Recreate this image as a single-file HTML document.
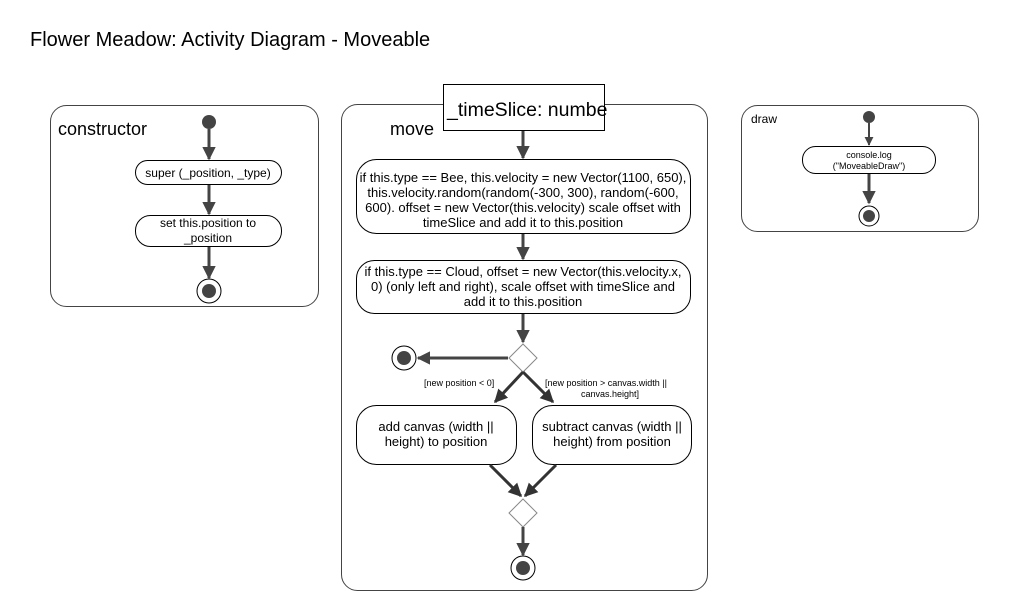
<!DOCTYPE html>
<html><head><meta charset="utf-8"><style>
html,body{margin:0;padding:0;background:#fff;}
svg{display:block;font-family:"Liberation Sans",Arial,sans-serif;}
</style></head><body>
<svg width="1024" height="592" viewBox="0 0 1024 592" xmlns="http://www.w3.org/2000/svg">
<defs>
<marker id="a" viewBox="0 0 10 10" refX="9" refY="5" markerWidth="4.5" markerHeight="4.5" orient="auto" markerUnits="strokeWidth">
<path d="M0,0 L10,5 L0,10 z" fill="#444"/></marker>
<marker id="b" viewBox="0 0 10 10" refX="9" refY="5" markerWidth="4.5" markerHeight="4.5" orient="auto" markerUnits="strokeWidth">
<path d="M0,0 L10,5 L0,10 z" fill="#333"/></marker>
</defs>
<text x="30" y="46" font-size="20" fill="#000">Flower Meadow: Activity Diagram - Moveable</text>

<!-- constructor -->
<rect x="50.5" y="105.5" width="268" height="201" rx="16" fill="none" stroke="#444"/>
<text x="58" y="135" font-size="18">constructor</text>
<circle cx="209" cy="122" r="7" fill="#444"/>
<line x1="209" y1="129" x2="209" y2="159" stroke="#444" stroke-width="3" marker-end="url(#a)"/>
<rect x="135.5" y="160.5" width="146" height="24" rx="12" fill="#fff" stroke="#000"/>
<text x="208" y="177" font-size="12" text-anchor="middle">super (_position, _type)</text>
<line x1="209" y1="185" x2="209" y2="214" stroke="#444" stroke-width="3" marker-end="url(#a)"/>
<rect x="135.5" y="215.5" width="146" height="31" rx="15" fill="#fff" stroke="#000"/>
<text x="208" y="227" font-size="12" text-anchor="middle">set this.position to</text>
<text x="208" y="242" font-size="12" text-anchor="middle">_position</text>
<line x1="209" y1="247" x2="209" y2="278" stroke="#444" stroke-width="3" marker-end="url(#a)"/>
<circle cx="209" cy="291" r="12" fill="#fff" stroke="#000"/>
<circle cx="209" cy="291" r="7" fill="#444"/>

<!-- move -->
<rect x="341.5" y="104.5" width="366" height="486" rx="16" fill="none" stroke="#444"/>
<text x="390" y="135" font-size="18">move</text>
<rect x="443.5" y="84.5" width="161" height="46" fill="#fff" stroke="#000"/>
<text x="447" y="116" font-size="19.5">_timeSlice: numbe</text>
<line x1="523" y1="131" x2="523" y2="158" stroke="#444" stroke-width="3" marker-end="url(#a)"/>
<rect x="356.5" y="159.5" width="334" height="74" rx="20" fill="#fff" stroke="#000"/>
<g font-size="13" text-anchor="middle">
<text x="523" y="182">if this.type == Bee, this.velocity = new Vector(1100, 650),</text>
<text x="523" y="197">this.velocity.random(random(-300, 300), random(-600,</text>
<text x="523" y="212">600). offset = new Vector(this.velocity) scale offset with</text>
<text x="523" y="227">timeSlice and add it to this.position</text>
</g>
<line x1="523" y1="234" x2="523" y2="259" stroke="#444" stroke-width="3" marker-end="url(#a)"/>
<rect x="356.5" y="260.5" width="334" height="53" rx="18" fill="#fff" stroke="#000"/>
<g font-size="13" text-anchor="middle">
<text x="523" y="276">if this.type == Cloud, offset = new Vector(this.velocity.x,</text>
<text x="523" y="291">0) (only left and right), scale offset with timeSlice and</text>
<text x="523" y="306">add it to this.position</text>
</g>
<line x1="523" y1="314" x2="523" y2="342" stroke="#444" stroke-width="3" marker-end="url(#a)"/>
<path d="M523,344 L537,358 L523,372 L509,358 Z" fill="#fff" stroke="#888"/>
<line x1="508" y1="358" x2="418" y2="358" stroke="#444" stroke-width="3" marker-end="url(#a)"/>
<circle cx="404" cy="358" r="12" fill="#fff" stroke="#000"/>
<circle cx="404" cy="358" r="7" fill="#444"/>
<line x1="523" y1="372" x2="495" y2="402" stroke="#333" stroke-width="3" marker-end="url(#b)"/>
<line x1="523" y1="372" x2="553" y2="402" stroke="#333" stroke-width="3" marker-end="url(#b)"/>
<g font-size="9">
<text x="424" y="386">[new position &lt; 0]</text>
<text x="545" y="386">[new position &gt; canvas.width ||</text>
<text x="581" y="397">canvas.height]</text>
</g>
<rect x="356.5" y="405.5" width="160" height="59" rx="20" fill="#fff" stroke="#000"/>
<text x="436" y="431" font-size="13" text-anchor="middle">add canvas (width ||</text>
<text x="436" y="446" font-size="13" text-anchor="middle">height) to position</text>
<rect x="532.5" y="405.5" width="159" height="59" rx="20" fill="#fff" stroke="#000"/>
<text x="612" y="431" font-size="13" text-anchor="middle">subtract canvas (width ||</text>
<text x="612" y="446" font-size="13" text-anchor="middle">height) from position</text>
<line x1="490" y1="465" x2="521" y2="496" stroke="#333" stroke-width="3" marker-end="url(#b)"/>
<line x1="556" y1="465" x2="525" y2="496" stroke="#333" stroke-width="3" marker-end="url(#b)"/>
<path d="M523,499 L537,513 L523,527 L509,513 Z" fill="#fff" stroke="#888"/>
<line x1="523" y1="527" x2="523" y2="555" stroke="#444" stroke-width="3" marker-end="url(#a)"/>
<circle cx="523" cy="568" r="12" fill="#fff" stroke="#000"/>
<circle cx="523" cy="568" r="7" fill="#444"/>

<!-- draw -->
<rect x="741.5" y="105.5" width="237" height="126" rx="16" fill="none" stroke="#444"/>
<text x="751" y="123" font-size="12">draw</text>
<circle cx="869" cy="117" r="6" fill="#444"/>
<line x1="869" y1="123" x2="869" y2="145" stroke="#444" stroke-width="2" marker-end="url(#a)"/>
<rect x="802.5" y="146.5" width="133" height="27" rx="13" fill="#fff" stroke="#000"/>
<text x="869" y="158" font-size="9" text-anchor="middle">console.log</text>
<text x="869" y="169" font-size="9" text-anchor="middle">("MoveableDraw")</text>
<line x1="869" y1="174" x2="869" y2="203" stroke="#444" stroke-width="3" marker-end="url(#a)"/>
<circle cx="869" cy="216" r="10" fill="#fff" stroke="#000"/>
<circle cx="869" cy="216" r="6" fill="#444"/>
</svg>
</body></html>
